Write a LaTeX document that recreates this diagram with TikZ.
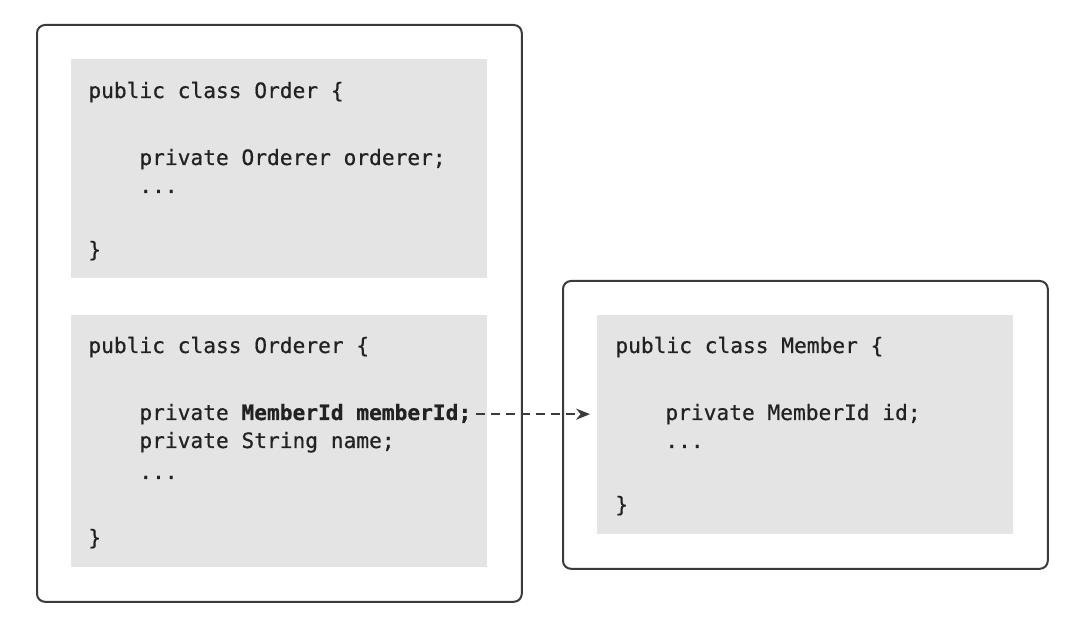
\documentclass[tikz,border=0pt]{standalone}
\usepackage{fontspec}
\newfontfamily\codefont{DejaVu Sans Mono}[FakeBold=0.6]
\usetikzlibrary{positioning,fit,arrows.meta}
\definecolor{codegray}{HTML}{E4E4E4}
\definecolor{inkgray}{HTML}{222222}
\definecolor{framegray}{HTML}{3A3A3A}
\tikzset{>={Stealth[length=7pt,width=5.6pt]}}
\tikzset{
  codebg/.style={fill=codegray, anchor=north west, minimum width=208pt, inner sep=0pt},
  codeline/.style={anchor=base west, inner sep=0pt, text=inkgray,
    font=\fontsize{10.6}{12}\selectfont\codefont},
  frame/.style={draw=framegray, line width=1pt, rounded corners=4pt, inner sep=17pt},
  refarrow/.style={->, draw=framegray, line width=0.9pt, dash pattern=on 4.5pt off 3pt},
}

\begin{document}
\begin{tikzpicture}[x=0.5pt, y=-0.5pt]
  \useasboundingbox (0,0) rectangle (1078,625);
  % code backgrounds
  \node[codebg, minimum height=109.5pt] (order) at (71,59) {};
  \node[codebg, minimum height=126pt] (orderer) at (71,315) {};
  \node[codebg, minimum height=109.5pt] (member) at (597,315) {};
  % frames
  \node[frame, fit=(order)(orderer)] (orderframe) {};
  \node[frame, fit=(member)] (memberframe) {};
  % class Order
  \node[codeline] (order-1) at ([shift={(17,39)}]order.north west) {public class Order \{};
  \node[codeline] (order-2) at ([shift={(68,106)}]order.north west) {private Orderer orderer;};
  \node[codeline] (order-3) at ([shift={(68,134)}]order.north west) {...};
  \node[codeline] (order-4) at ([shift={(17,198)}]order.north west) {\}};
  % class Orderer
  \node[codeline] (orderer-1) at ([shift={(17,38)}]orderer.north west) {public class Orderer \{};
  \node[codeline] (orderer-2) at ([shift={(68,105)}]orderer.north west) {private \textbf{MemberId memberId;}};
  \node[codeline] (orderer-3) at ([shift={(68,133)}]orderer.north west) {private String name;};
  \node[codeline] (orderer-4) at ([shift={(68,164)}]orderer.north west) {...};
  \node[codeline] (orderer-5) at ([shift={(17,230)}]orderer.north west) {\}};
  % class Member
  \node[codeline] (member-1) at ([shift={(18,38)}]member.north west) {public class Member \{};
  \node[codeline] (member-2) at ([shift={(68,105)}]member.north west) {private MemberId id;};
  \node[codeline] (member-3) at ([shift={(68,133)}]member.north west) {...};
  \node[codeline] (member-4) at ([shift={(18,197)}]member.north west) {\}};
  % reference
  \draw[refarrow] ([xshift=2pt]orderer-2.east) -- ([xshift=-3.5pt]member.west |- orderer-2.east);
\end{tikzpicture}
\end{document}
